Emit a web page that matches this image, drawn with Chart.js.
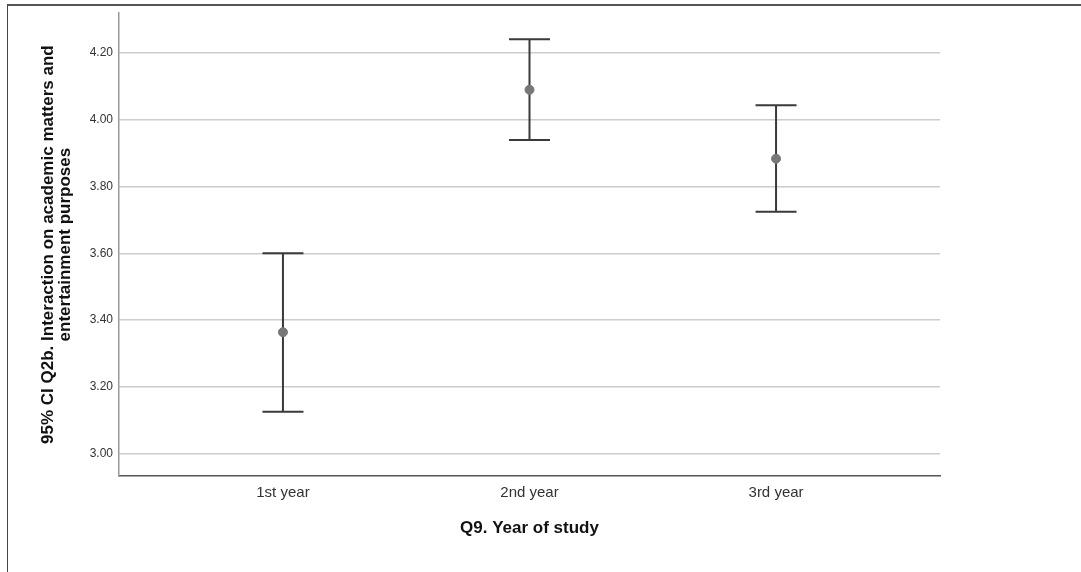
<!DOCTYPE html>
<html>
<head>
<meta charset="utf-8">
<script src="https://cdn.jsdelivr.net/npm/chart.js@4/dist/chart.umd.min.js"></script>
<style>
    html, body { margin: 0; padding: 0; background: #fff; }
    #wrap { position: relative; width: 1081px; height: 572px; }
    #frame { position: absolute; left: 7px; top: 4px; right: 0; bottom: 0;
             border-top: 2px solid #555; border-left: 1px solid #444; }
    #chart { position: absolute; left: 0; top: 0; }
</style>
</head>
<body>
<div id="wrap">
    <div id="frame"></div>
    <canvas id="chart" width="1081" height="572"></canvas>
</div>
<script>
// reference values
var categories = ['1st year', '2nd year', '3rd year'];
var means = [3.364, 4.089, 3.883];
var ci_low = [3.126, 3.939, 3.724];
var ci_high = [3.600, 4.240, 4.043];
var y_ticks = [3.00, 3.20, 3.40, 3.60, 3.80, 4.00, 4.20];

var font_family = "Arial, 'Liberation Sans', sans-serif";

// whiskers + caps, drawn from the data through the scales
var errorBars = {
    id: 'errorBars',
    beforeDatasetsDraw: function (chart) {
        var ctx = chart.ctx;
        var xs = chart.scales.x;
        var ys = chart.scales.y;
        ctx.save();
        ctx.strokeStyle = '#3a3a3a';
        ctx.lineWidth = 2;
        for (var i = 0; i < categories.length; i++) {
            var px = xs.getPixelForValue(i);
            var top = ys.getPixelForValue(ci_high[i]);
            var bot = ys.getPixelForValue(ci_low[i]);
            ctx.beginPath();
            ctx.moveTo(px, top);
            ctx.lineTo(px, bot);
            ctx.moveTo(px - 20.5, top);
            ctx.lineTo(px + 20.5, top);
            ctx.moveTo(px - 20.5, bot);
            ctx.lineTo(px + 20.5, bot);
            ctx.stroke();
        }
        ctx.restore();
    }
};

var ctx = document.getElementById('chart').getContext('2d');
var myChart = new Chart(ctx, {
    type: 'scatter',
    data: {
        datasets: [{
            data: means.map(function (m, i) { return { x: i, y: m }; }),
            backgroundColor: '#777777',
            borderColor: '#777777',
            pointRadius: 4.5,
            pointHoverRadius: 4.5
        }]
    },
    options: {
        responsive: false,
        animation: false,
        layout: { padding: { top: 12, right: 141, left: 0, bottom: 0 } },
        plugins: {
            legend: { display: false },
            tooltip: { enabled: false }
        },
        scales: {
            x: {
                type: 'linear',
                min: -0.665,
                max: 2.665,
                afterFit: function (scale) { scale.height = 96; },
                afterBuildTicks: function (scale) {
                    scale.ticks = categories.map(function (c, i) { return { value: i }; });
                },
                grid: { display: false, drawTicks: false },
                border: { display: true, color: '#555', width: 1.5 },
                ticks: {
                    padding: 8,
                    color: '#333',
                    font: { family: font_family, size: 15 },
                    callback: function (v) { return categories[v]; }
                },
                title: {
                    display: true,
                    text: 'Q9. Year of study',
                    color: '#111',
                    font: { family: font_family, size: 17, weight: 'bold' },
                    padding: { top: 0, bottom: 33 }
                }
            },
            y: {
                min: 2.934,
                max: 4.318,
                afterFit: function (scale) { scale.width = 119; },
                afterBuildTicks: function (scale) {
                    scale.ticks = y_ticks.map(function (v) { return { value: v }; });
                },
                grid: { color: '#cccccc', lineWidth: 1.5, drawTicks: false },
                border: { display: true, color: '#999', width: 1.5 },
                ticks: {
                    padding: 6,
                    color: '#333',
                    font: { family: font_family, size: 12 },
                    callback: function (v) { return v.toFixed(2); }
                },
                title: {
                    display: true,
                    text: ['95% CI Q2b. Interaction on academic matters and', 'entertainment purposes'],
                    color: '#111',
                    font: { family: font_family, size: 17, weight: 'bold', lineHeight: 1.0 },
                    padding: { top: 39.5, bottom: 0 }
                }
            }
        }
    },
    plugins: [errorBars]
});
</script>
</body>
</html>
